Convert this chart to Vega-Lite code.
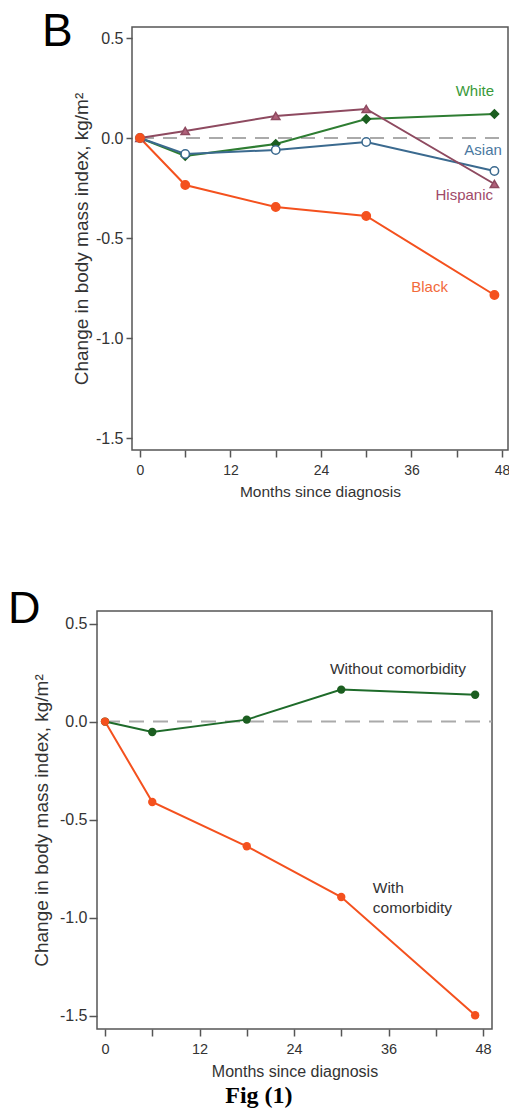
{
  "$schema": "https://vega.github.io/schema/vega-lite/v6.json",
  "padding": {"left": 7, "top": 8, "right": 0, "bottom": 0},
  "background": "white",
  "datasets": {
    "race": [
      {"group": "White", "month": 0, "bmi": 0},
      {"group": "White", "month": 6, "bmi": -0.09},
      {"group": "White", "month": 18, "bmi": -0.03},
      {"group": "White", "month": 30, "bmi": 0.095},
      {"group": "White", "month": 47, "bmi": 0.12},
      {"group": "Asian", "month": 0, "bmi": 0},
      {"group": "Asian", "month": 6, "bmi": -0.08},
      {"group": "Asian", "month": 18, "bmi": -0.06},
      {"group": "Asian", "month": 30, "bmi": -0.02},
      {"group": "Asian", "month": 47, "bmi": -0.165},
      {"group": "Hispanic", "month": 0, "bmi": 0},
      {"group": "Hispanic", "month": 6, "bmi": 0.035},
      {"group": "Hispanic", "month": 18, "bmi": 0.11},
      {"group": "Hispanic", "month": 30, "bmi": 0.145},
      {"group": "Hispanic", "month": 47, "bmi": -0.23},
      {"group": "Black", "month": 0, "bmi": 0},
      {"group": "Black", "month": 6, "bmi": -0.235},
      {"group": "Black", "month": 18, "bmi": -0.345},
      {"group": "Black", "month": 30, "bmi": -0.39},
      {"group": "Black", "month": 47, "bmi": -0.785}
    ],
    "raceLabels": [
      {"group": "White", "month": 44.4, "bmi": 0.235},
      {"group": "Asian", "month": 45.5, "bmi": -0.06},
      {"group": "Hispanic", "month": 43.0, "bmi": -0.285},
      {"group": "Black", "month": 38.4, "bmi": -0.743}
    ],
    "comorb": [
      {"group": "Without comorbidity", "month": 0, "bmi": 0},
      {"group": "Without comorbidity", "month": 6, "bmi": -0.053},
      {"group": "Without comorbidity", "month": 18, "bmi": 0.01},
      {"group": "Without comorbidity", "month": 30, "bmi": 0.163},
      {"group": "Without comorbidity", "month": 47, "bmi": 0.137},
      {"group": "With comorbidity", "month": 0, "bmi": 0},
      {"group": "With comorbidity", "month": 6, "bmi": -0.41},
      {"group": "With comorbidity", "month": 18, "bmi": -0.636},
      {"group": "With comorbidity", "month": 30, "bmi": -0.895},
      {"group": "With comorbidity", "month": 47, "bmi": -1.498}
    ],
    "comorbLabelsCenter": [
      {"label": "Without comorbidity", "month": 37.2, "bmi": 0.268}
    ],
    "comorbLabelsLeft": [
      {"label": "With", "month": 34.0, "bmi": -0.849},
      {"label": "comorbidity", "month": 34.0, "bmi": -0.951}
    ],
    "zeroB": [{"start": 0, "end": 48.8, "level": 0}],
    "zeroD": [{"start": 0, "end": 49.1, "level": 0}]
  },
  "title": {
    "text": "Fig (1)",
    "orient": "bottom",
    "anchor": "middle",
    "font": "Liberation Serif",
    "fontWeight": "bold",
    "fontSize": 24,
    "color": "#000000",
    "offset": 4,
    "dx": 0
  },
  "bounds": "flush",
  "spacing": 584,
  "vconcat": [
    {
      "spacing": 0,
      "bounds": "flush",
      "hconcat": [
        {
          "width": 35,
          "height": 10,
          "view": {"stroke": null},
          "data": {"values": [{"t": ""}]},
          "mark": {"type": "text"},
          "encoding": {"text": {"field": "t"}}
        },
        {
          "width": 376,
          "height": 423,
          "title": {
            "text": "B",
            "anchor": "start",
            "orient": "top",
            "frame": "group",
            "font": "Liberation Sans",
            "fontSize": 46,
            "fontWeight": "normal",
            "color": "#000000",
            "baseline": "alphabetic",
            "offset": -45,
            "dx": -90,
            "dy": 20
          },
          "layer": [
            {
              "data": {"name": "zeroB"},
              "mark": {"type": "rule", "color": "#aaaaaa", "strokeWidth": 2, "strokeDash": [14, 9]},
              "encoding": {
                "x": {"field": "start", "type": "quantitative", "scale": {"domain": [-1.06, 48.8], "nice": false, "zero": false}},
                "x2": {"field": "end"},
                "y": {"field": "level", "type": "quantitative", "scale": {"domain": [-1.56, 0.555], "nice": false, "zero": false}}
              }
            },
            {
              "data": {"name": "race"},
              "mark": {"type": "line", "strokeWidth": 2},
              "encoding": {
                "x": {
                  "field": "month", "type": "quantitative",
                  "scale": {"domain": [-1.06, 48.8], "nice": false, "zero": false},
                  "axis": {
                    "title": "Months since diagnosis",
                    "values": [0, 6, 12, 18, 24, 30, 36, 42, 48],
                    "labelExpr": "datum.value % 12 === 0 ? datum.label : ''",
                    "grid": false, "domain": false,
                    "tickSize": 7, "tickColor": "#555555", "tickWidth": 1.5,
                    "labelFontSize": 14, "labelColor": "#333333", "labelPadding": 6,
                    "titleFontSize": 15.5, "titleColor": "#333333", "titleFontWeight": "normal", "titlePadding": 7
                  }
                },
                "y": {
                  "field": "bmi", "type": "quantitative",
                  "scale": {"domain": [-1.56, 0.555], "nice": false, "zero": false},
                  "axis": {
                    "title": "Change in body mass index, kg/m²",
                    "values": [-1.5, -1, -0.5, 0, 0.5],
                    "format": ".1f",
                    "labelExpr": "replace(datum.label, '−', '-')",
                    "grid": false, "domain": false,
                    "tickSize": 6, "tickColor": "#555555", "tickWidth": 1.5,
                    "labelFontSize": 16, "labelColor": "#333333", "labelPadding": 3,
                    "titleFontSize": 19, "titleColor": "#333333", "titleFontWeight": "normal", "titlePadding": 4
                  }
                },
                "color": {
                  "field": "group", "type": "nominal",
                  "scale": {"domain": ["White", "Asian", "Hispanic", "Black"], "range": ["#2e7d32", "#3b6a8f", "#8e4a60", "#f4511e"]},
                  "legend": null
                }
              }
            },
            {
              "data": {"name": "race"},
              "mark": {"type": "point", "strokeWidth": 1.5, "opacity": 1, "size": 70},
              "encoding": {
                "x": {"field": "month", "type": "quantitative"},
                "y": {"field": "bmi", "type": "quantitative"},
                "shape": {
                  "field": "group", "type": "nominal",
                  "scale": {"domain": ["White", "Asian", "Hispanic", "Black"], "range": ["diamond", "circle", "triangle-up", "circle"]},
                  "legend": null
                },
                "fill": {
                  "field": "group", "type": "nominal",
                  "scale": {"domain": ["White", "Asian", "Hispanic", "Black"], "range": ["#1b5e20", "#ffffff", "#b0607a", "#f4511e"]},
                  "legend": null
                },
                "stroke": {
                  "field": "group", "type": "nominal",
                  "scale": {"domain": ["White", "Asian", "Hispanic", "Black"], "range": ["#1b5e20", "#3b6a8f", "#8e4a60", "#f4511e"]},
                  "legend": null
                }
              }
            },
            {
              "data": {"name": "raceLabels"},
              "mark": {"type": "text", "fontSize": 15, "font": "Liberation Sans", "align": "center", "baseline": "middle"},
              "encoding": {
                "x": {"field": "month", "type": "quantitative"},
                "y": {"field": "bmi", "type": "quantitative"},
                "text": {"field": "group"},
                "color": {
                  "field": "group", "type": "nominal",
                  "scale": {"domain": ["White", "Asian", "Hispanic", "Black"], "range": ["#3a9a3a", "#4a78a0", "#a04a68", "#f26a3a"]},
                  "legend": null
                }
              }
            }
          ],
          "resolve": {"scale": {"color": "independent"}}
        }
      ]
    },
    {
      "width": 395,
      "height": 418,
      "title": {
        "text": "D",
        "anchor": "start",
        "orient": "top",
        "frame": "group",
        "font": "Liberation Sans",
        "fontSize": 45,
        "fontWeight": "normal",
        "color": "#000000",
        "baseline": "alphabetic",
        "offset": -46,
        "dx": -89,
        "dy": 11
      },
      "layer": [
        {
          "data": {"name": "zeroD"},
          "mark": {"type": "rule", "color": "#aaaaaa", "strokeWidth": 2, "strokeDash": [15, 9]},
          "encoding": {
            "x": {"field": "start", "type": "quantitative", "scale": {"domain": [-1.016, 49.14], "nice": false, "zero": false}},
            "x2": {"field": "end"},
            "y": {"field": "level", "type": "quantitative", "scale": {"domain": [-1.568, 0.564], "nice": false, "zero": false}}
          }
        },
        {
          "data": {"name": "comorb"},
          "mark": {"type": "line", "strokeWidth": 2},
          "encoding": {
            "x": {
              "field": "month", "type": "quantitative",
              "scale": {"domain": [-1.016, 49.14], "nice": false, "zero": false},
              "axis": {
                "title": "Months since diagnosis",
                "values": [0, 6, 12, 18, 24, 30, 36, 42, 48],
                "labelExpr": "datum.value % 12 === 0 ? datum.label : ''",
                "grid": false, "domain": false,
                "tickSize": 7, "tickColor": "#555555", "tickWidth": 1.5,
                "labelFontSize": 14.5, "labelColor": "#333333", "labelPadding": 6,
                "titleFontSize": 16, "titleColor": "#333333", "titleFontWeight": "normal", "titlePadding": 8
              }
            },
            "y": {
              "field": "bmi", "type": "quantitative",
              "scale": {"domain": [-1.568, 0.564], "nice": false, "zero": false},
              "axis": {
                "title": "Change in body mass index, kg/m²",
                "values": [-1.5, -1, -0.5, 0, 0.5],
                "format": ".1f",
                "labelExpr": "replace(datum.label, '−', '-')",
                "grid": false, "domain": false,
                "tickSize": 8, "tickColor": "#555555", "tickWidth": 1.5,
                "labelFontSize": 16, "labelColor": "#333333", "labelPadding": 2,
                "titleFontSize": 19, "titleColor": "#333333", "titleFontWeight": "normal", "titlePadding": 8
              }
            },
            "color": {
              "field": "group", "type": "nominal",
              "scale": {"domain": ["Without comorbidity", "With comorbidity"], "range": ["#1e6b2a", "#f4511e"]},
              "legend": null
            }
          }
        },
        {
          "data": {"name": "comorb"},
          "mark": {"type": "point", "filled": true, "opacity": 1, "size": 70},
          "encoding": {
            "x": {"field": "month", "type": "quantitative"},
            "y": {"field": "bmi", "type": "quantitative"},
            "color": {
              "field": "group", "type": "nominal",
              "scale": {"domain": ["Without comorbidity", "With comorbidity"], "range": ["#1b5e20", "#f4511e"]},
              "legend": null
            }
          }
        },
        {
          "data": {"name": "comorbLabelsCenter"},
          "mark": {"type": "text", "fontSize": 15.5, "font": "Liberation Sans", "baseline": "middle", "align": "center", "color": "#333333"},
          "encoding": {
            "x": {"field": "month", "type": "quantitative"},
            "y": {"field": "bmi", "type": "quantitative"},
            "text": {"field": "label"}
          }
        },
        {
          "data": {"name": "comorbLabelsLeft"},
          "mark": {"type": "text", "fontSize": 15.5, "font": "Liberation Sans", "baseline": "middle", "align": "left", "color": "#333333"},
          "encoding": {
            "x": {"field": "month", "type": "quantitative"},
            "y": {"field": "bmi", "type": "quantitative"},
            "text": {"field": "label"}
          }
        }
      ],
      "resolve": {"scale": {"color": "independent"}}
    }
  ],
  "config": {
    "font": "Liberation Sans",
    "view": {"stroke": "#555555", "strokeWidth": 1.5},
    "axis": {"labelFont": "Liberation Sans", "titleFont": "Liberation Sans"}
  }
}
